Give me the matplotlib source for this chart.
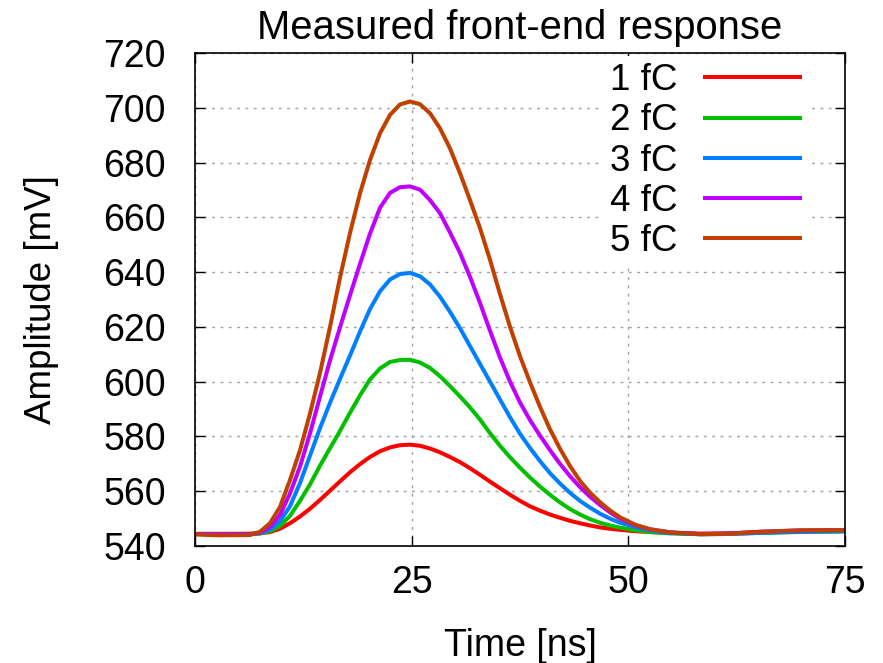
import matplotlib
matplotlib.use("Agg")
import matplotlib.pyplot as plt

plt.rcParams['font.family'] = ['Liberation Sans', 'DejaVu Sans']

time_ns = [0, 2.88, 6.35, 7.5, 8.65, 9.81, 10.96, 12.12, 13.27, 14.42,
           15.58, 16.73, 17.88, 19.04, 20.19, 21.35, 22.5, 23.65, 24.81, 25.96,
           27.12, 28.27, 29.42, 30.58, 31.73, 32.88, 34.04, 35.19, 36.35, 37.5,
           38.65, 39.81, 40.96, 42.12, 43.27, 44.42, 45.58, 46.73, 47.88, 49.04,
           50.77, 52.5, 54.8, 58.3, 61.7, 65.2, 69.8, 75]

fc1 = [544.4, 544.4, 544.5, 544.6, 545.1, 546.3, 548.3, 550.8, 553.6, 556.8,
       560.2, 563.6, 566.9, 569.9, 572.5, 574.6, 576.0, 576.8, 577.0, 576.6,
       575.6, 574.2, 572.5, 570.6, 568.4, 566.0, 563.5, 561.1, 558.7, 556.5,
       554.5, 552.9, 551.5, 550.3, 549.2, 548.3, 547.5, 546.8, 546.3, 545.9,
       545.4, 545.1, 544.8, 544.5, 544.6, 545.0, 545.3, 545.5]
fc2 = [544.4, 544.4, 544.4, 544.6, 545.4, 547.3, 551.0, 556.5, 562.5, 569.3,
       575.7, 582.0, 588.6, 595.0, 600.8, 604.8, 607.2, 607.9, 608.0, 607.0,
       605.0, 602.0, 598.4, 594.6, 590.6, 586.2, 581.2, 576.6, 572.4, 568.6,
       565.0, 561.7, 558.7, 555.9, 553.5, 551.5, 549.8, 548.5, 547.5, 546.7,
       545.8, 545.1, 544.6, 544.3, 544.4, 544.8, 545.1, 545.3]
fc3 = [544.4, 544.4, 544.3, 544.7, 546.0, 549.0, 554.5, 563.0, 573.0, 583.0,
       592.3, 601.0, 609.5, 618.3, 626.5, 633.0, 637.3, 639.3, 639.7, 638.5,
       635.5, 631.0, 625.5, 619.5, 613.0, 606.5, 600.0, 593.5, 587.0, 581.0,
       575.8, 571.0, 566.6, 562.8, 559.4, 556.5, 554.0, 551.8, 550.0, 548.5,
       546.9, 545.7, 544.8, 544.3, 544.4, 544.8, 545.2, 545.4]
fc4 = [544.4, 544.4, 544.3, 544.9, 547.0, 551.3, 559.2, 569.0, 581.1, 594.5,
       607.8, 619.8, 631.5, 643.0, 654.0, 663.5, 668.9, 671.0, 671.3, 670.1,
       666.3, 661.5, 654.5, 647.0, 638.3, 628.8, 618.6, 608.8, 600.0, 592.4,
       586.0, 580.3, 575.0, 570.0, 565.5, 561.5, 558.0, 555.0, 552.3, 550.0,
       547.6, 546.1, 545.0, 544.4, 544.6, 545.2, 545.7, 545.8]
fc5 = [544.2, 543.9, 544.0, 545.2, 548.3, 554.3, 564.1, 575.0, 588.4, 603.1,
       620.0, 638.0, 654.2, 668.8, 680.9, 690.7, 697.4, 701.2, 702.3, 701.3,
       698.0, 692.5, 685.2, 676.1, 666.3, 656.1, 644.5, 632.0, 620.0, 609.3,
       599.8, 590.8, 582.6, 575.5, 569.2, 563.8, 559.5, 556.0, 553.0, 550.5,
       547.8, 546.1, 545.0, 544.3, 544.5, 545.2, 545.7, 545.8]

series = [fc1, fc2, fc3, fc4, fc5]
labels = ["1 fC", "2 fC", "3 fC", "4 fC", "5 fC"]
colors = ["#ff0000", "#00c000", "#0080ff", "#c000ff", "#c04000"]

x_ticks = [0, 25, 50, 75]
y_ticks = list(range(540, 721, 20))

fig = plt.figure(figsize=(8.83, 6.63), dpi=100)
ax = fig.add_axes([195/883, 1 - 546/663, 650/883, 493/663])

for vals, lab, col in zip(series, labels, colors):
    ax.plot(time_ns, vals, color=col, lw=2.9, label=lab,
            solid_joinstyle='round', solid_capstyle='butt')

ax.set_xlim(0, 75)
ax.set_ylim(540, 720)
ax.set_xticks(x_ticks)
ax.set_yticks(y_ticks)
ax.tick_params(direction='in', length=7, width=1, top=True, right=True,
               labelsize=27)
ax.tick_params(axis='x', pad=14)
ax.tick_params(axis='y', pad=21)
ax.grid(True, color='#a0a0a0', linestyle=(0, (2, 4)), lw=1)
for sp in ax.spines.values():
    sp.set_linewidth(1.2)

ax.set_title("Measured front-end response", fontsize=28.8, pad=10)
ax.set_xlabel("Time [ns]", fontsize=27, labelpad=19)
ax.set_ylabel("Amplitude [mV]", fontsize=26.5, labelpad=32)

leg = ax.legend(loc='upper right', bbox_to_anchor=(0.945, 0.994),
                borderaxespad=0, markerfirst=False, fontsize=26.5,
                handlelength=2.7, handletextpad=0.68, labelspacing=0.14,
                frameon=True, fancybox=False, framealpha=1, borderpad=0.2)
leg.get_frame().set_edgecolor('none')
leg.get_frame().set_facecolor('white')

fig.savefig("out.png", dpi=100)
